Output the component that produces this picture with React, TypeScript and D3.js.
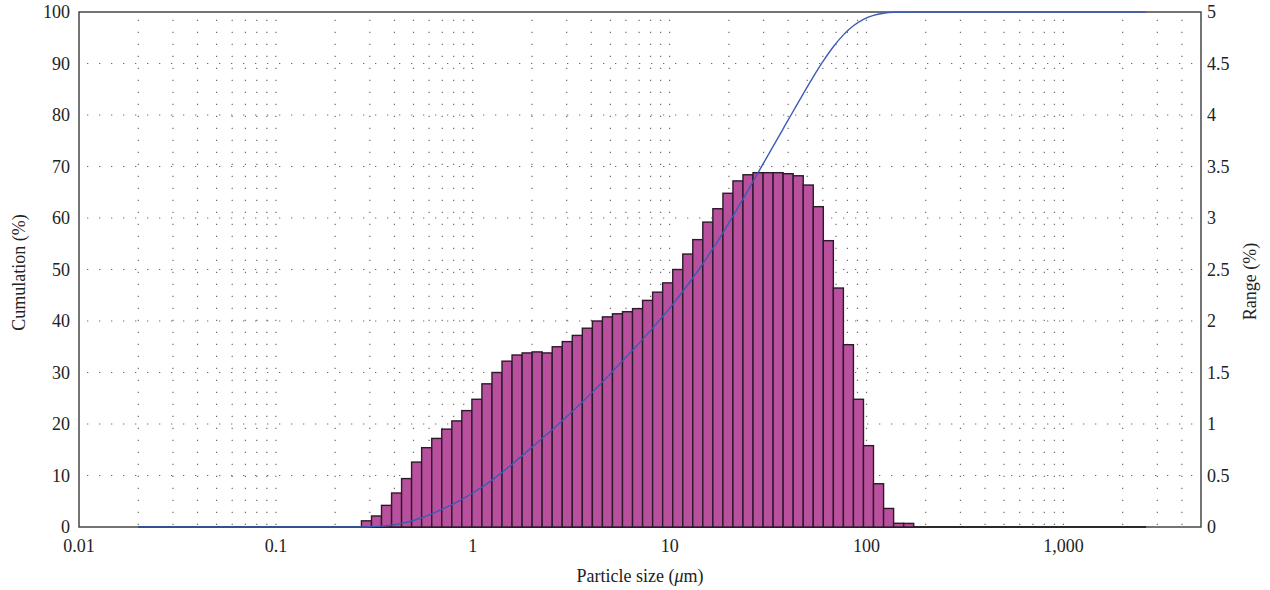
import React from 'react';
import * as d3 from 'd3';

// Bin edges (µm) of the size classes that carry volume
const sizeEdges = [
  0.272, 0.306, 0.344, 0.387, 0.435, 0.489, 0.55, 0.619, 0.696, 0.783,
  0.88, 0.99, 1.113, 1.252, 1.408, 1.583, 1.781, 2.003, 2.252, 2.533,
  2.848, 3.203, 3.602, 4.051, 4.556, 5.124, 5.762, 6.48, 7.288, 8.196,
  9.217, 10.37, 11.66, 13.11, 14.74, 16.58, 18.65, 20.97, 23.58, 26.52,
  29.83, 33.54, 37.72, 42.42, 47.71, 53.65, 60.34, 67.86, 76.31, 85.82,
  96.51, 108.5, 122.1, 137.3, 154.4, 173.6,
];

// Range (%) per size class
const rangeValues = [
  0.06, 0.107, 0.21, 0.33, 0.47, 0.63, 0.77, 0.86, 0.95, 1.03,
  1.13, 1.24, 1.39, 1.5, 1.61, 1.67, 1.69, 1.7, 1.69, 1.75,
  1.8, 1.86, 1.93, 2.0, 2.04, 2.07, 2.09, 2.12, 2.2, 2.28,
  2.37, 2.5, 2.65, 2.79, 2.96, 3.09, 3.24, 3.36, 3.42, 3.44,
  3.44, 3.44, 3.43, 3.41, 3.32, 3.11, 2.78, 2.32, 1.77, 1.24,
  0.79, 0.42, 0.18, 0.036, 0.035,
];

// measurement limits of the instrument (µm)
const measureMin = 0.02;
const measureMax = 2630;

const xDomain = [0.01, 5000];
const xTickValues = [0.01, 0.1, 1, 10, 100, 1000];
const xTickLabels = ['0.01', '0.1', '1', '10', '100', '1,000'];
const leftTicks = [0, 10, 20, 30, 40, 50, 60, 70, 80, 90, 100];
const rightTicks = [0, 0.5, 1, 1.5, 2, 2.5, 3, 3.5, 4, 4.5, 5];
const rightTickLabels = ['0', '0.5', '1', '1.5', '2', '2.5', '3', '3.5', '4', '4.5', '5'];

const FONT = '"Liberation Serif", "Times New Roman", serif';

export default function App() {
  const W = 1270;
  const H = 590;
  const L = 79, R = 1201, T = 12, B = 527;

  const x = d3.scaleLog().domain(xDomain).range([L, R]);
  const yL = d3.scaleLinear().domain([0, 100]).range([B, T]);
  const yR = d3.scaleLinear().domain([0, 5]).range([B, T]);

  const gridX = x.ticks().filter((v) => v > xDomain[0] * 1.001 && v < xDomain[1] * 0.999);
  const gridY = leftTicks.filter((v) => v > 0 && v < 100);

  const cum = d3.cumsum(rangeValues);
  const total = cum[cum.length - 1];
  const cumPoints: [number, number][] = [
    [x(measureMin), yL(0)],
    [x(sizeEdges[0]), yL(0)],
    ...Array.from(cum, (c, i) => [x(sizeEdges[i + 1]), yL((c / total) * 100)] as [number, number]),
    [x(measureMax), yL(100)],
  ];
  const line = d3.line().curve(d3.curveMonotoneX);

  const dots = '1.3 10.7';

  return (
    <svg width={W} height={H} style={{ position: 'absolute', left: 0, top: 0, display: 'block', background: '#fff' }}>
      {/* grid */}
      <g stroke="#6b6b6b" strokeWidth={1.2} strokeDasharray={dots} fill="none">
        {gridX.map((v, i) => (
          <line key={'gx' + i} x1={x(v)} x2={x(v)} y1={B - 2} y2={T} />
        ))}
        {gridY.map((v, i) => (
          <line key={'gy' + i} x1={L + 8} x2={R} y1={yL(v)} y2={yL(v)} />
        ))}
      </g>

      {/* frame */}
      <rect x={L} y={T} width={R - L} height={B - T} fill="none" stroke="#3a3a3a" strokeWidth={1.4} />

      {/* zero classes along the baseline */}
      <line x1={x(measureMin)} x2={x(measureMax)} y1={B} y2={B} stroke="#2a2a2a" strokeWidth={2} />

      {/* bars */}
      <g fill="#b9509d" stroke="#2b1a2a" strokeWidth={1.4}>
        {rangeValues.map((v, i) => (
          <rect
            key={'b' + i}
            x={x(sizeEdges[i])}
            y={yR(v)}
            width={x(sizeEdges[i + 1]) - x(sizeEdges[i])}
            height={yR(0) - yR(v)}
          />
        ))}
      </g>

      {/* cumulative curve */}
      <path d={line(cumPoints) || ''} fill="none" stroke="#3b5cb4" strokeWidth={1.4} />

      {/* left ticks */}
      <g fontFamily={FONT} fontSize={18} fill="#222">
        {leftTicks.map((v) => (
          <text key={'l' + v} x={L - 9} y={yL(v)} dy="0.35em" textAnchor="end">
            {v}
          </text>
        ))}
        {rightTicks.map((v, i) => (
          <text key={'r' + i} x={R + 6} y={yR(v)} dy="0.35em" textAnchor="start">
            {rightTickLabels[i]}
          </text>
        ))}
        {xTickValues.map((v, i) => (
          <text key={'x' + i} x={x(v)} y={B + 25} textAnchor="middle">
            {xTickLabels[i]}
          </text>
        ))}
        <text x={(L + R) / 2} y={B + 55} textAnchor="middle">
          Particle size (<tspan fontStyle="italic">μ</tspan>m)
        </text>
        <text transform={`translate(25, ${(T + B) / 2 + 3}) rotate(-90)`} textAnchor="middle">
          Cumulation (%)
        </text>
        <text transform={`translate(1256, ${(T + B) / 2 + 12}) rotate(-90)`} textAnchor="middle">
          Range (%)
        </text>
      </g>
    </svg>
  );
}
